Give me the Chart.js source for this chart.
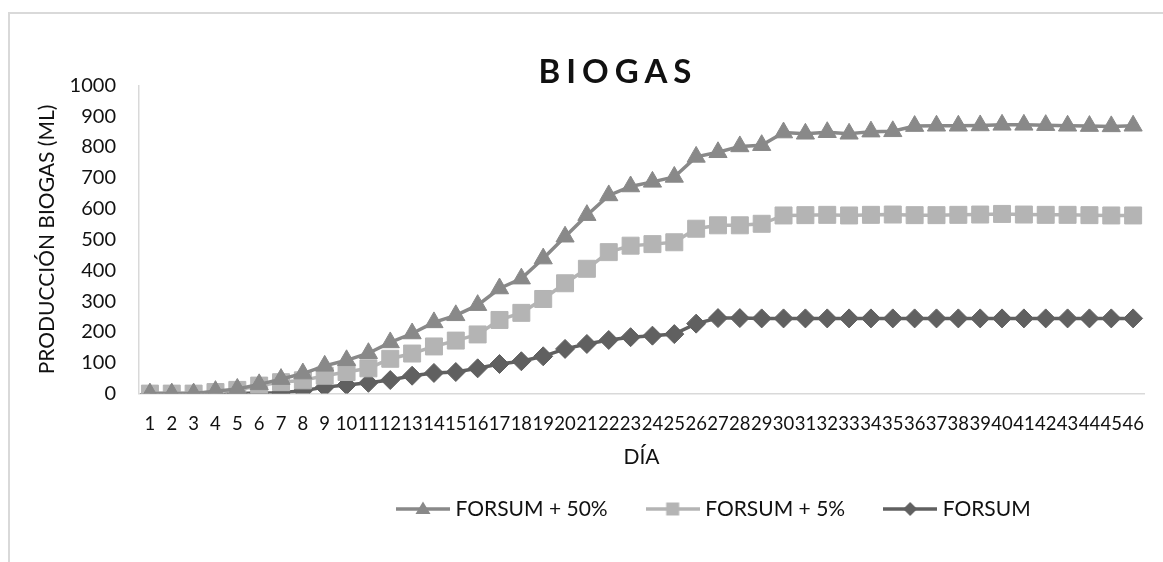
<!DOCTYPE html>
<html>
<head>
<meta charset="utf-8">
<script src="https://cdn.jsdelivr.net/npm/chart.js@4.4.0/dist/chart.umd.min.js"></script>
<style>
  html, body { margin: 0; padding: 0; background: #fff; overflow: hidden; }
  #frame { position: absolute; left: 8px; top: 12px; width: 2000px; height: 2000px; border: 2px solid #d9d9d9; }
  #wrap { position: absolute; left: 0; top: 0; width: 1163px; height: 562px; }
</style>
</head>
<body>
<div id="frame"></div>
<div id="wrap"><canvas id="biogasChart" width="1163" height="562"></canvas></div>
<script>
const days = [];
for (let d = 1; d <= 46; d++) days.push(String(d));

const forsum50 = [0, 0, 0, 8, 15, 30, 47, 65, 90, 108, 131, 166, 195, 231, 254, 287, 341, 373, 438, 509,
  579, 643, 672, 687, 703, 768, 783, 802, 806, 847, 843, 848, 843, 850, 851, 868, 869, 869, 870, 872,
  872, 871, 869, 868, 867, 869];
const forsum5 = [0, 0, 0, 5, 12, 26, 37, 43, 58, 70, 82, 113, 130, 153, 172, 192, 239, 262, 307, 358,
  405, 459, 480, 485, 491, 535, 546, 546, 551, 578, 579, 580, 578, 580, 581, 579, 579, 580, 581, 583,
  581, 580, 580, 579, 578, 578];
const forsum = [0, 0, 0, 0, 0, 2, 3, 9, 21, 28, 35, 44, 58, 67, 70, 82, 96, 105, 121, 145,
  161, 174, 183, 188, 193, 227, 245, 245, 244, 244, 244, 244, 244, 244, 244, 244, 244, 244, 244, 244,
  244, 244, 244, 244, 244, 244];

const seriesNames = ['FORSUM + 50%', 'FORSUM + 5%', 'FORSUM'];
const seriesColors = ['#898989', '#b4b4b4', '#606060'];
const seriesMarkers = ['triangle', 'rect', 'rectRot'];
const markerSizes = [10.5, 12, 9.5];

const fontFamily = 'Lato, "Open Sans", sans-serif';
const textColor = '#111';

// legend icon = short line with the marker in the middle
function makeIcon(color, style) {
    const c = document.createElement('canvas');
    c.width = 54;
    c.height = 20;
    const g = c.getContext('2d');
    g.strokeStyle = color;
    g.fillStyle = color;
    g.lineWidth = 3.5;
    g.beginPath();
    g.moveTo(0, 10);
    g.lineTo(54, 10);
    g.stroke();
    g.beginPath();
    if (style == 'triangle') {
        g.moveTo(27, 2.5);
        g.lineTo(34.5, 15);
        g.lineTo(19.5, 15);
    } else if (style == 'rect') {
        g.rect(20.5, 3.5, 13, 13);
    } else {
        g.moveTo(27, 3);
        g.lineTo(34, 10);
        g.lineTo(27, 17);
        g.lineTo(20, 10);
    }
    g.closePath();
    g.fill();
    return c;
}

const legendIcons = seriesColors.map((c, i) => makeIcon(c, seriesMarkers[i]));

function makeDataset(i, values) {
    return {
        label: seriesNames[i],
        data: values,
        borderColor: seriesColors[i],
        backgroundColor: seriesColors[i],
        borderWidth: 3.5,
        pointStyle: seriesMarkers[i],
        pointRadius: markerSizes[i],
        pointHoverRadius: markerSizes[i],
        pointBackgroundColor: seriesColors[i],
        pointBorderColor: seriesColors[i],
        pointBorderWidth: 1,
        tension: 0,
        fill: false
    };
}

const chart = new Chart(document.getElementById('biogasChart'), {
    type: 'line',
    data: {
        labels: days,
        datasets: [makeDataset(0, forsum50), makeDataset(1, forsum5), makeDataset(2, forsum)]
    },
    options: {
        responsive: false,
        animation: false,
        layout: { padding: { left: 20, right: 11, top: 0, bottom: 32.5 } },
        plugins: {
            title: {
                display: true,
                text: 'BIOGAS',
                color: textColor,
                font: { family: fontFamily, size: 33, weight: 'bold', lineHeight: 0.8 },
                padding: { top: 59, bottom: 0 }
            },
            legend: {
                position: 'bottom',
                labels: {
                    color: textColor,
                    font: { family: fontFamily, size: 21 },
                    usePointStyle: true,
                    pointStyleWidth: 44,
                    padding: 43,
                    generateLabels: (c) => Chart.defaults.plugins.legend.labels.generateLabels(c)
                        .map((item, i) => Object.assign(item, { pointStyle: legendIcons[i] }))
                }
            },
            tooltip: { enabled: false }
        },
        scales: {
            x: {
                offset: true,
                grid: { display: false, drawTicks: false },
                border: { display: true, color: '#d9d9d9', width: 1.5 },
                ticks: {
                    color: textColor,
                    font: { family: fontFamily, size: 18.5 },
                    autoSkip: false,
                    maxRotation: 0,
                    minRotation: 0,
                    padding: 19
                },
                title: {
                    display: true,
                    text: 'DÍA',
                    color: textColor,
                    font: { family: fontFamily, size: 21 },
                    padding: { top: -9.5, bottom: -14 }
                }
            },
            y: {
                min: 0,
                max: 1000,
                grid: { display: false, drawTicks: false },
                border: { display: true, color: '#d9d9d9', width: 1.5 },
                ticks: {
                    stepSize: 100,
                    color: textColor,
                    font: { family: fontFamily, size: 20 },
                    padding: 23,
                    callback: (v) => String(v)
                },
                title: {
                    display: true,
                    text: 'PRODUCCIÓN BIOGAS (ML)',
                    color: textColor,
                    font: { family: fontFamily, size: 21 },
                    padding: { top: 14.4, bottom: -13 }
                }
            }
        }
    }
});

// spaced-out title, shifted to where the reference has it
const titleBlock = chart.titleBlock;
const drawTitle = titleBlock.draw.bind(titleBlock);
titleBlock.draw = function () {
    const ctx = chart.ctx;
    ctx.save();
    ctx.letterSpacing = '6px';
    ctx.translate(32, 0);
    drawTitle();
    ctx.restore();
};

// legend starts further right in the reference
const legend = chart.legend;
const drawLegend = legend.draw.bind(legend);
const legendShift = 401 - legend.legendHitBoxes[0].left;
legend.draw = function () {
    const ctx = chart.ctx;
    ctx.save();
    ctx.translate(legendShift, 0);
    drawLegend();
    ctx.restore();
};
chart.draw();
</script>
</body>
</html>
